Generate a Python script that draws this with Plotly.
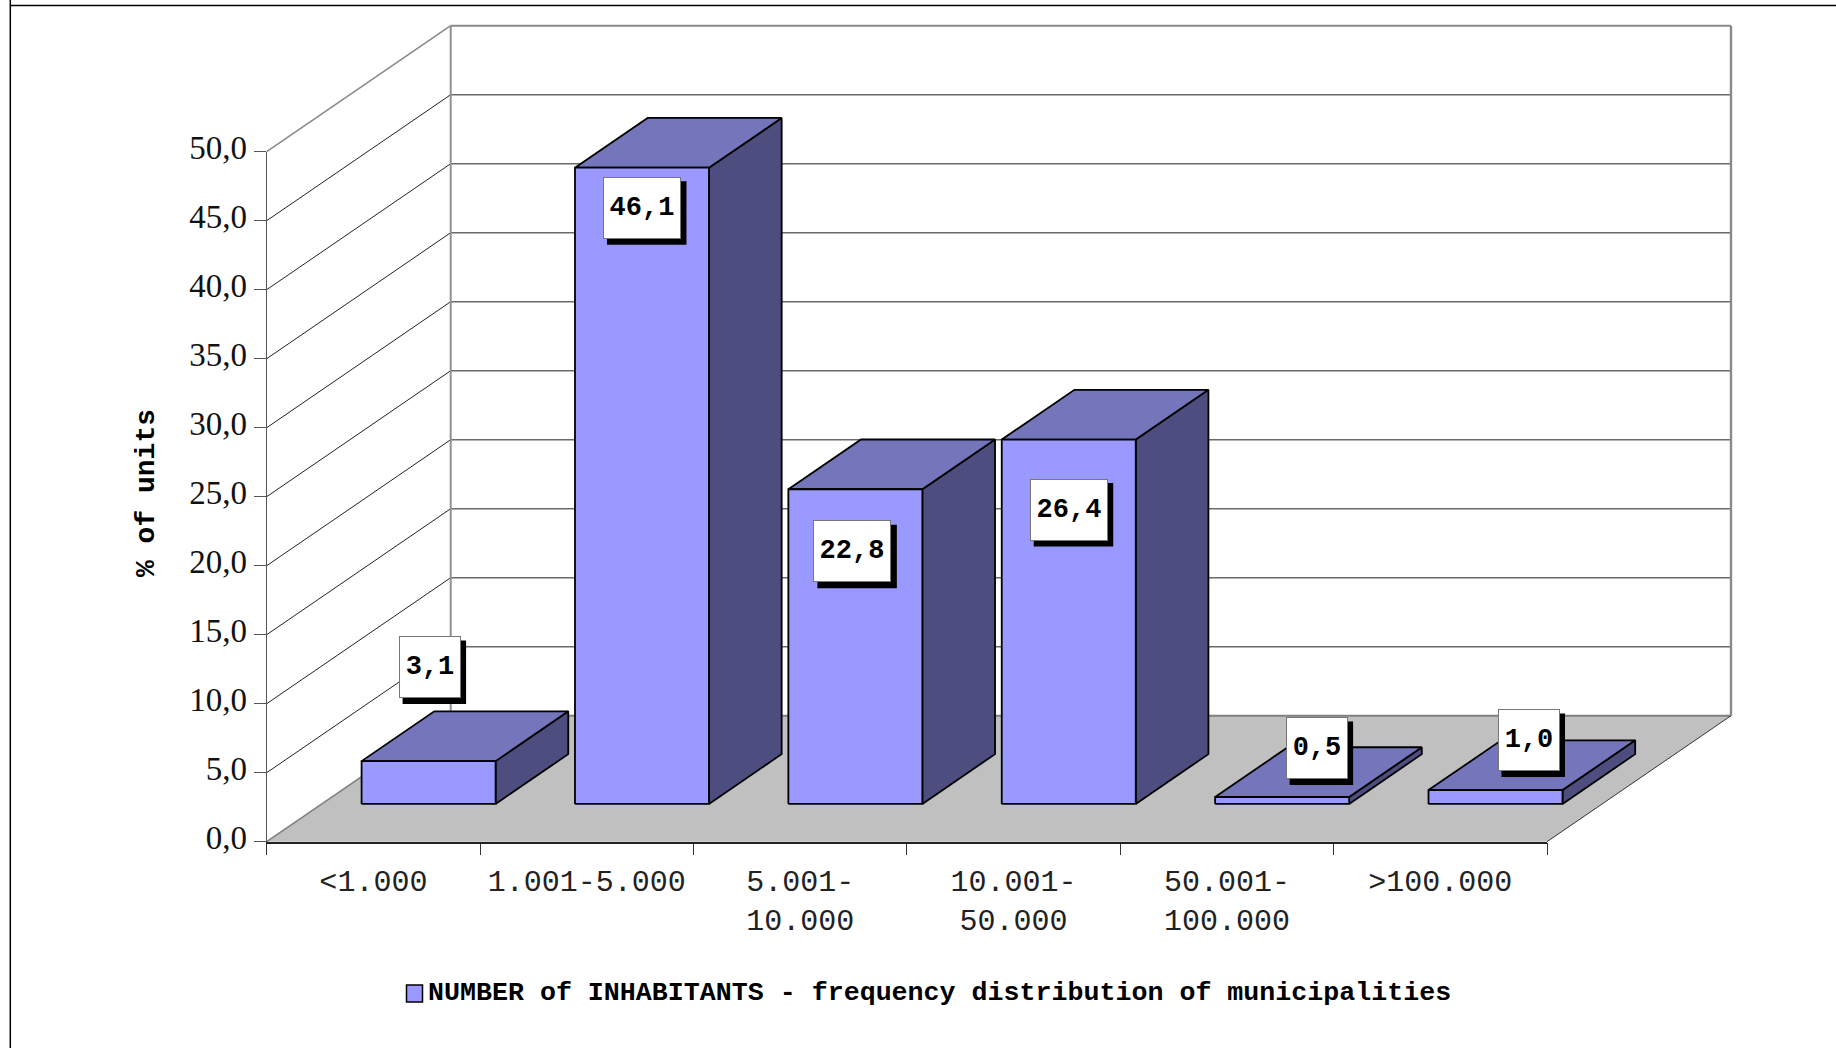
import plotly.graph_objects as go

CATEGORIES = ["<1.000", "1.001-5.000", "5.001-<br>10.000", "10.001-<br>50.000", "50.001-<br>100.000", ">100.000"]
SHARES = [3.1, 46.1, 22.8, 26.4, 0.5, 1.0]
SHARE_LABELS = ["3,1", "46,1", "22,8", "26,4", "0,5", "1,0"]
SERIES_NAME = "NUMBER of INHABITANTS - frequency distribution of municipalities"
Y_TICKS = [0, 5, 10, 15, 20, 25, 30, 35, 40, 45, 50]

# Page geometry, in pixels
W, H = 1836, 1048
LEFT, RIGHT, BASE, TOP = 266.7, 1547.0, 841.7, 151.7
CAT_PX = (RIGHT - LEFT) / len(CATEGORIES)
UNIT_PX = (BASE - TOP) / 50
# Oblique projection: the box recedes by this much from its front to its back
DEPTH_X = 184.0 / CAT_PX
DEPTH_Y = 126.0 / UNIT_PX
BAR_W = 134.0 / CAT_PX
BAR_NEAR, BAR_FAR = 0.30, 0.695

# Label placement relative to the top centre of each bar's front face (px)
LABEL_DX = [1, 0, -3, 0, 34.5, 33]
LABEL_DY = [94, -40, -62, -70, 49, 50]
LABEL_W = [60, 76, 76, 76, 60, 60]
LABEL_H = 60

FRONT, ROOF, SIDE = "#9999FF", "#7575BC", "#4D4D80"
FLOOR = "#C0C0C0"
MONO = "Liberation Mono"


def project(cat, val, depth):
    return cat + depth * DEPTH_X, val + depth * DEPTH_Y


def polygon(points):
    xs, ys = zip(*[project(*p) for p in points])
    return list(xs), list(ys)


def faces(kind):
    xs, ys = [], []
    for i, v in enumerate(SHARES):
        a, b = i + 0.5 - BAR_W / 2, i + 0.5 + BAR_W / 2
        n, f = BAR_NEAR, BAR_FAR
        if kind == "front":
            pts = [(a, 0, n), (b, 0, n), (b, v, n), (a, v, n), (a, 0, n)]
        elif kind == "roof":
            pts = [(a, v, n), (b, v, n), (b, v, f), (a, v, f), (a, v, n)]
        else:
            pts = [(b, 0, n), (b, 0, f), (b, v, f), (b, v, n), (b, 0, n)]
        px, py = polygon(pts)
        xs += px + [None]
        ys += py + [None]
    return xs, ys


fig = go.Figure()


def line(points, color, width):
    xs, ys = polygon(points)
    fig.add_trace(go.Scatter(x=xs, y=ys, mode="lines", line=dict(color=color, width=width),
                             hoverinfo="skip", showlegend=False))


n_cat = len(CATEGORIES)

# Floor of the box
xs, ys = polygon([(0, 0, 0), (n_cat, 0, 0), (n_cat, 0, 1), (0, 0, 1), (0, 0, 0)])
fig.add_trace(go.Scatter(x=xs, y=ys, mode="lines", fill="toself", fillcolor=FLOOR,
                         line=dict(width=0, color=FLOOR), hoverinfo="skip", showlegend=False))

# Back wall and side wall gridlines
for v in Y_TICKS[1:]:
    top = v == Y_TICKS[-1]
    line([(0, v, 1), (n_cat, v, 1)], "#8a8a8a" if top else "#6a6a6a", 2 if top else 1.4)
    line([(0, v, 0), (0, v, 1)], "#8a8a8a" if top else "#222222", 1.6 if top else 1)
line([(0, 0, 0), (0, 0, 1)], "#808080", 1.6)
line([(0, 0, 1), (n_cat, 0, 1)], "#808080", 2)
line([(0, 0, 1), (0, 50, 1)], "#909090", 2)
line([(n_cat, 0, 1), (n_cat, 50, 1)], "#8a8a8a", 2.4)
line([(n_cat, 0, 0), (n_cat, 0, 1)], "#333333", 1)

# The bars: one trace per kind of face
for kind, color in (("side", SIDE), ("roof", ROOF), ("front", FRONT)):
    xs, ys = faces(kind)
    fig.add_trace(go.Scatter(x=xs, y=ys, mode="lines", fill="toself", fillcolor=color,
                             line=dict(color="#000000", width=1.8), hoverinfo="skip",
                             showlegend=False, name=SERIES_NAME))

# Carrier trace for the visible value and category axes
fig.add_trace(go.Bar(x=CATEGORIES, y=SHARES, xaxis="x2", yaxis="y2", opacity=0,
                     hoverinfo="skip", showlegend=False))

shapes = []
annotations = []
for i, (v, text) in enumerate(zip(SHARES, SHARE_LABELS)):
    cx, cy = project(i + 0.5, v, BAR_NEAR)
    dx, dy = LABEL_DX[i], LABEL_DY[i]
    w = LABEL_W[i]
    # Drop shadow behind the label box
    shapes.append(dict(type="rect", xref="x", yref="y", xsizemode="pixel", ysizemode="pixel",
                       xanchor=cx, yanchor=cy, layer="above",
                       x0=dx - w / 2 + 3, x1=dx + w / 2 + 6.5,
                       y0=dy - LABEL_H / 2 - 7, y1=dy + LABEL_H / 2 - 3.5,
                       fillcolor="#000000", line=dict(width=0)))
    annotations.append(dict(x=cx, y=cy, xref="x", yref="y", text=text, showarrow=False,
                            xshift=dx, yshift=dy, width=w, height=LABEL_H, align="center", valign="middle",
                            bgcolor="#FFFFFF", bordercolor="#777777", borderwidth=1, borderpad=0,
                            font=dict(family=MONO, size=27, color="#000000", weight="bold")))

# Outer frame: only the top and left edges fall on the page
shapes.append(dict(type="line", xref="paper", yref="paper", x0=10.3 / W, x1=10.3 / W, y0=0, y1=1,
                   line=dict(color="#000000", width=1.5)))
shapes.append(dict(type="line", xref="paper", yref="paper", x0=10.3 / W, x1=1, y0=1 - 5.5 / H, y1=1 - 5.5 / H,
                   line=dict(color="#000000", width=1.5)))
# Legend swatch
shapes.append(dict(type="rect", xref="paper", yref="paper", x0=406.5 / W, x1=422.5 / W,
                   y0=1 - 1002 / H, y1=1 - 985 / H, fillcolor=FRONT, line=dict(color="#000000", width=1.5)))

annotations.append(dict(xref="paper", yref="paper", x=426 / W, y=1 - 992.5 / H, xanchor="left", yanchor="middle",
                        text=SERIES_NAME, showarrow=False,
                        font=dict(family=MONO, size=26.65, color="#000000", weight="bold")))
annotations.append(dict(xref="paper", yref="paper", x=146 / W, y=1 - 493 / H, xanchor="center", yanchor="middle",
                        text="% of units", textangle=-90, showarrow=False,
                        font=dict(family=MONO, size=28, color="#000000", weight="bold")))

fig.update_layout(
    width=W, height=H, margin=dict(l=0, r=0, t=0, b=0, pad=0),
    paper_bgcolor="#FFFFFF", plot_bgcolor="rgba(0,0,0,0)",
    separators=", ", showlegend=False, barmode="group",
    shapes=shapes, annotations=annotations,
    xaxis=dict(domain=[0, 1], range=[-LEFT / CAT_PX, (W - LEFT) / CAT_PX], visible=False, fixedrange=True,
               automargin=False),
    yaxis=dict(domain=[0, 1], range=[(BASE - H) / UNIT_PX, BASE / UNIT_PX], visible=False, fixedrange=True,
               automargin=False),
    xaxis2=dict(domain=[LEFT / W, RIGHT / W], anchor="y2", type="category", categoryorder="array",
                categoryarray=CATEGORIES, tickson="boundaries", ticks="outside", ticklen=12, tickwidth=1,
                tickcolor="#333333", showline=True, linecolor="#222222", linewidth=1.5, showgrid=False,
                zeroline=False, tickangle=0, ticklabelstandoff=12, automargin=False,
                tickfont=dict(family=MONO, size=30, color="#222222"), fixedrange=True),
    yaxis2=dict(domain=[(H - BASE) / H, (H - TOP) / H], anchor="x2", range=[0, 50], tickmode="array",
                tickvals=Y_TICKS, tickformat=".1f", ticks="outside", ticklen=12, tickwidth=1,
                tickcolor="#555555", showline=True, linecolor="#555555", linewidth=1.2, showgrid=False,
                zeroline=False, automargin=False, ticklabelshift=-4,
                tickfont=dict(family="Liberation Serif", size=33, color="#111111"), fixedrange=True),
)

fig.write_html("out.html")
